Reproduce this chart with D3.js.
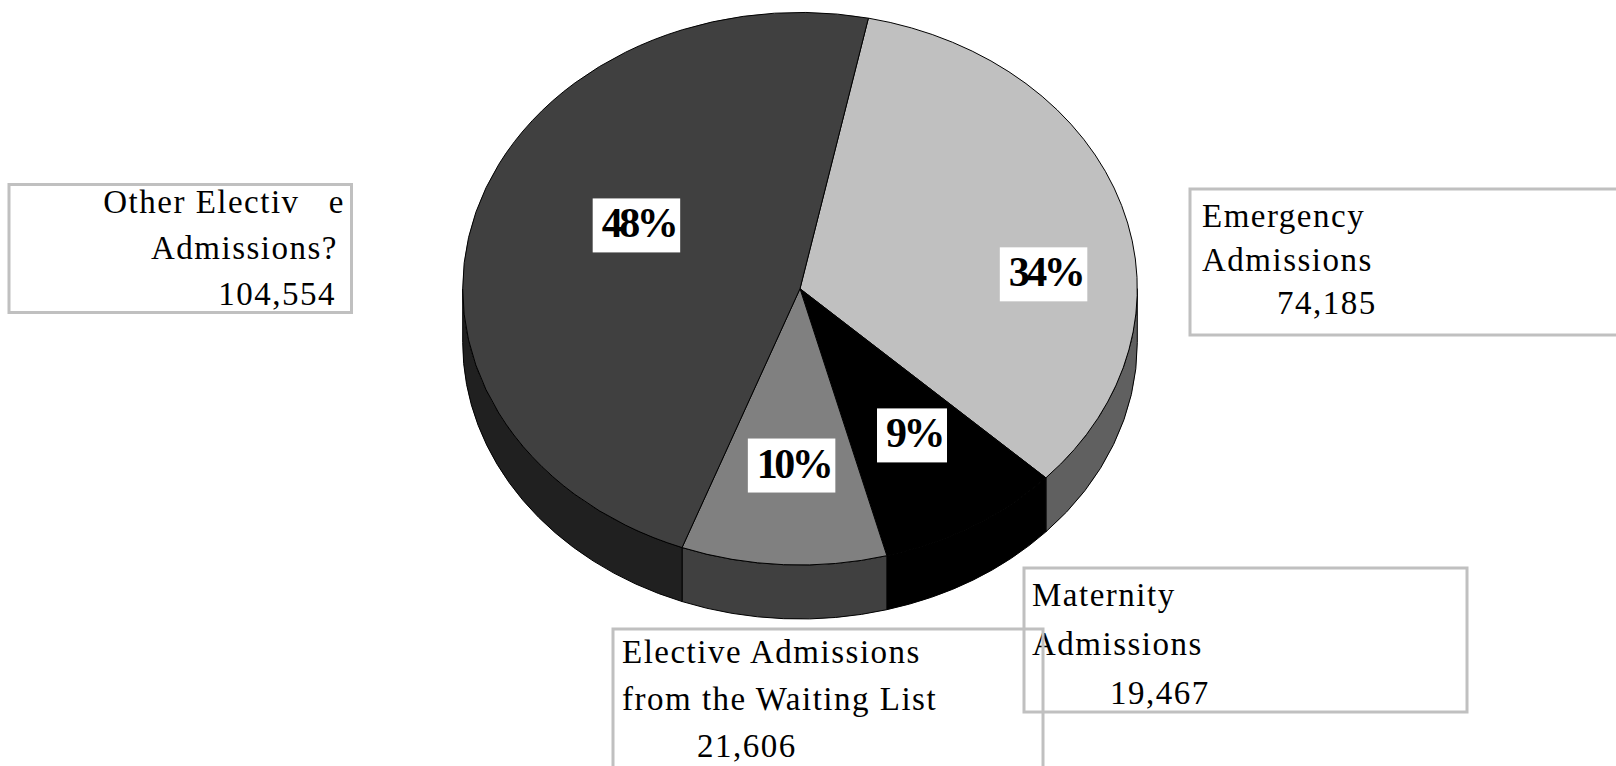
<!DOCTYPE html>
<html>
<head>
<meta charset="utf-8">
<script src="https://cdn.jsdelivr.net/npm/d3@7"></script>
<style>
  body { margin: 0; background: #fff; }
  svg { display: block; }
  .cat { font-family: "Liberation Serif", "Times New Roman", serif; font-size: 33px; letter-spacing: 1.5px; fill: #000; white-space: pre; }
  .pct { font-family: "Liberation Serif", "Times New Roman", serif; font-size: 42px; font-weight: bold; letter-spacing: -3.5px; fill: #000; }
</style>
</head>
<body>
<div id="chart"></div>
<script>
// admissions by type
const categories = ['Emergency Admissions', 'Maternity Admissions', 'Elective Admissions from the Waiting List', 'Other Elective Admissions?']
const values = [74185, 19467, 21606, 104554]
const labelLines = [
  ['Emergency', 'Admissions'],
  ['Maternity', 'Admissions'],
  ['Elective Admissions', 'from the Waiting List'],
  ['Other Electiv   e', 'Admissions?']
]
const topColors = ['#c0c0c0', '#000000', '#808080', '#404040']
const sideColors = ['#606060', '#000000', '#404040', '#202020']

const width = 1616
const height = 766
const cx = 800
const cy = 288.7
const rx = 337.3
const ry = 276.3
const depth = 54
const start = 11.7 * Math.PI / 180

// where the percentage boxes sit, in units of the ellipse radii
const pctPos = [[0.728, -0.052], [0.338, 0.531], [-0.019, 0.640], [-0.479, -0.229]]
// category label boxes: x, y, w, h, text x, anchor, first baseline, line gap, number x
const boxes = [
  { x: 1190, y: 189, w: 440, h: 146, tx: 1202, anchor: 'start', base: 227, gap: 43.5, nx: 1277 },
  { x: 1024, y: 568, w: 443, h: 144, tx: 1032, anchor: 'start', base: 606, gap: 49, nx: 1110 },
  { x: 613, y: 629, w: 430, h: 160, tx: 622, anchor: 'start', base: 663, gap: 47, nx: 697 },
  { x: 9, y: 184.5, w: 342.5, h: 128, tx: 345, anchor: 'end', base: 213, gap: 46, nx: 336 }
]

const total = d3.sum(values)
const fmtPct = d3.format('.0%')
const fmtNum = d3.format(',')

const svg = d3.select('#chart').append('svg')
  .attr('width', width)
  .attr('height', height)

const pie = d3.pie().sort(null).startAngle(start).endAngle(start + 2 * Math.PI)
const arcs = pie(values).map((d, i) => Object.assign(d, { i }))

const pt = (a, dy = 0) => [cx + rx * Math.sin(a), cy - ry * Math.cos(a) + dy]

function topPath (d) {
  const p0 = pt(d.startAngle)
  const p1 = pt(d.endAngle)
  const large = d.endAngle - d.startAngle > Math.PI ? 1 : 0
  return `M${cx},${cy}L${p0}A${rx},${ry} 0 ${large} 1 ${p1}Z`
}

// front part of the rim, only the half facing the viewer
function sidePaths (d) {
  const out = []
  for (const off of [0, 2 * Math.PI]) {
    const lo = Math.max(d.startAngle, Math.PI / 2 + off)
    const hi = Math.min(d.endAngle, 3 * Math.PI / 2 + off)
    if (hi <= lo) continue
    const a = pt(lo)
    const b = pt(hi)
    const b2 = pt(hi, depth)
    const a2 = pt(lo, depth)
    out.push(`M${a}A${rx},${ry} 0 0 1 ${b}L${b2}A${rx},${ry} 0 0 0 ${a2}Z`)
  }
  return out.join('')
}

svg.selectAll('path.side')
  .data(arcs)
  .enter()
  .append('path')
  .attr('class', 'side')
  .attr('d', sidePaths)
  .attr('fill', d => sideColors[d.i])
  .attr('stroke', '#000')
  .attr('stroke-width', 1)

svg.selectAll('path.top')
  .data(arcs)
  .enter()
  .append('path')
  .attr('class', 'top')
  .attr('d', topPath)
  .attr('fill', d => topColors[d.i])
  .attr('stroke', '#000')
  .attr('stroke-width', 1)

// percentage labels in white boxes
const pctG = svg.selectAll('g.pct')
  .data(arcs)
  .enter()
  .append('g')
  .attr('class', 'pct')
  .attr('transform', d => `translate(${cx + rx * pctPos[d.i][0]},${cy + ry * pctPos[d.i][1]})`)

pctG.append('rect').attr('fill', '#fff')
pctG.append('text')
  .attr('class', 'pct')
  .attr('y', 12)
  .attr('text-anchor', 'middle')
  .text(d => fmtPct(d.value / total))

pctG.each(function () {
  const g = d3.select(this)
  const w = g.select('text').node().getComputedTextLength() + 14
  g.select('rect')
    .attr('x', -w / 2 - 2)
    .attr('y', -27)
    .attr('width', w)
    .attr('height', 54)
})

// category label boxes
const labG = svg.selectAll('g.lab')
  .data(categories)
  .enter()
  .append('g')
  .attr('class', 'lab')

labG.append('rect')
  .attr('x', (d, i) => boxes[i].x)
  .attr('y', (d, i) => boxes[i].y)
  .attr('width', (d, i) => boxes[i].w)
  .attr('height', (d, i) => boxes[i].h)
  .attr('fill', 'none')
  .attr('stroke', '#c0c0c0')
  .attr('stroke-width', 3)

labG.each(function (d, i) {
  const b = boxes[i]
  const g = d3.select(this)
  labelLines[i].forEach((line, k) => {
    g.append('text')
      .attr('class', 'cat')
      .attr('x', b.anchor === 'end' && k === 1 ? b.nx + 2 : b.tx)
      .attr('y', b.base + k * b.gap)
      .attr('text-anchor', b.anchor)
      .text(line)
  })
  g.append('text')
    .attr('class', 'cat')
    .attr('x', b.nx)
    .attr('y', b.base + 2 * b.gap)
    .attr('text-anchor', b.anchor)
    .text(fmtNum(values[i]))
})
</script>
</body>
</html>
